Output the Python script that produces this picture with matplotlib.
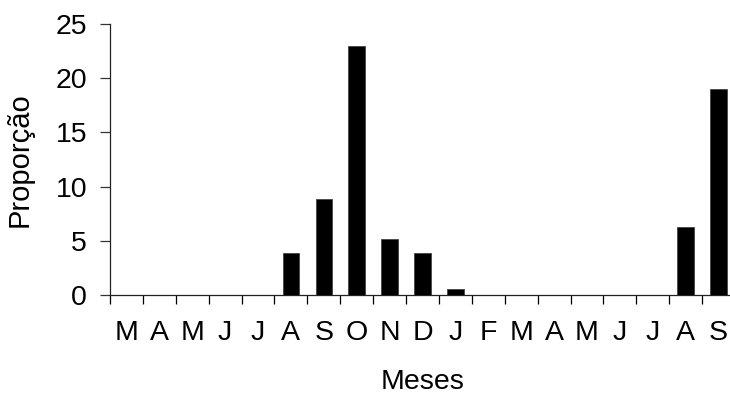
import matplotlib
matplotlib.use("Agg")
import matplotlib.pyplot as plt
from matplotlib.ticker import FixedLocator

plt.rcParams['font.family'] = ['Liberation Sans', 'DejaVu Sans']

meses = ["M", "A", "M", "J", "J", "A", "S", "O", "N", "D",
         "J", "F", "M", "A", "M", "J", "J", "A", "S"]
proporcao = [0, 0, 0, 0, 0, 3.9, 8.9, 23.0, 5.2, 3.9,
             0.55, 0, 0, 0, 0, 0, 0, 6.3, 19.0]
yticks = [0, 5, 10, 15, 20, 25]

FS = 20.5

fig = plt.figure(figsize=(7.30, 3.94), dpi=100)
ax = fig.add_axes([110 / 730, 99 / 394, 625 / 730, 271 / 394])

n = len(meses)
centers = [i + 0.5 for i in range(n)]
ax.bar(centers, proporcao, width=0.5, color="black", edgecolor="#444444",
       linewidth=0.6, zorder=3)

ax.set_xlim(0, n)
ax.set_ylim(0, 25)
ax.set_yticks(yticks)
ax.set_yticklabels([str(v) for v in yticks])

# tick marks between categories, month names centred under the bars
ax.xaxis.set_major_locator(FixedLocator(list(range(n))))
ax.set_xticklabels([""] * n)
ax.set_xticks(centers, minor=True)
ax.set_xticklabels(meses, minor=True)

ax.tick_params(axis="x", which="major", direction="out", length=6.5,
               width=0.9, color="black")
ax.tick_params(axis="x", which="minor", length=0, pad=18, labelsize=FS)
ax.tick_params(axis="y", direction="out", length=7.5, width=0.9,
               pad=9, labelsize=FS, color="#333333")

for s in ("top", "right"):
    ax.spines[s].set_visible(False)
for s in ("left", "bottom"):
    ax.spines[s].set_linewidth(0.9)
    ax.spines[s].set_color("#222222")

ax.set_xlabel("Meses", fontsize=FS)
ax.set_ylabel("Proporção", fontsize=FS + 0.5)
ax.xaxis.set_label_coords((423 - 110) / 625, -74 / 271)
ax.yaxis.set_label_coords(-76 / 625, 0.5)

fig.savefig("out.png", dpi=100)
